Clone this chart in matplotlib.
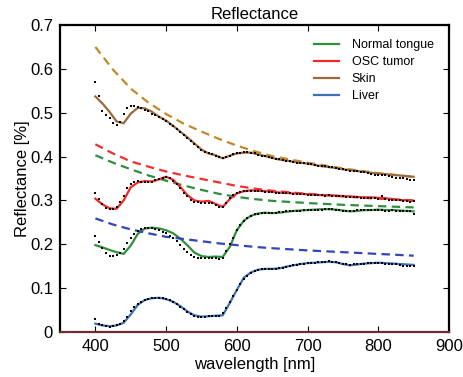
import numpy as np
import matplotlib
matplotlib.use('Agg')
import matplotlib.pyplot as plt
from matplotlib.ticker import FormatStrFormatter

plt.rcParams['font.family'] = ['Liberation Sans', 'DejaVu Sans']

# measured spectra (black dots), 5 nm steps
wl_meas = list(range(400, 851, 5))
skin_meas = [0.570, 0.537, 0.505, 0.495, 0.487, 0.477, 0.472, 0.478, 0.498, 0.510,
             0.515, 0.516, 0.513, 0.510, 0.507, 0.503, 0.498, 0.494, 0.490, 0.485,
             0.481, 0.475, 0.469, 0.463, 0.457, 0.450, 0.443, 0.436, 0.428, 0.421,
             0.415, 0.410, 0.407, 0.405, 0.402, 0.399, 0.396, 0.398, 0.402, 0.405,
             0.407, 0.409, 0.410, 0.411, 0.409, 0.407, 0.404, 0.402, 0.401, 0.399,
             0.397, 0.395, 0.394, 0.393, 0.391, 0.389, 0.388, 0.386, 0.386, 0.385,
             0.384, 0.382, 0.380, 0.379, 0.378, 0.378, 0.377, 0.376, 0.374, 0.372,
             0.371, 0.369, 0.368, 0.367, 0.366, 0.365, 0.364, 0.362, 0.360, 0.359,
             0.358, 0.357, 0.357, 0.355, 0.353, 0.350, 0.352, 0.351, 0.348, 0.347,
             0.346]
osc_meas = [0.316, 0.303, 0.292, 0.282, 0.280, 0.281, 0.286, 0.296, 0.311, 0.328,
            0.337, 0.343, 0.344, 0.343, 0.342, 0.341, 0.343, 0.346, 0.349, 0.351,
            0.353, 0.351, 0.344, 0.337, 0.328, 0.318, 0.309, 0.301, 0.297, 0.296,
            0.295, 0.295, 0.295, 0.294, 0.290, 0.285, 0.284, 0.293, 0.305, 0.313,
            0.317, 0.319, 0.321, 0.322, 0.322, 0.322, 0.321, 0.321, 0.320, 0.320,
            0.319, 0.318, 0.317, 0.317, 0.316, 0.316, 0.315, 0.315, 0.314, 0.314,
            0.313, 0.313, 0.313, 0.312, 0.312, 0.311, 0.312, 0.311, 0.310, 0.309,
            0.309, 0.308, 0.308, 0.307, 0.307, 0.306, 0.306, 0.305, 0.306, 0.305,
            0.304, 0.310, 0.303, 0.302, 0.301, 0.302, 0.300, 0.299, 0.298, 0.297,
            0.298]
tongue_meas = [0.218, 0.205, 0.192, 0.179, 0.174, 0.174, 0.175, 0.179, 0.190, 0.203,
               0.215, 0.224, 0.231, 0.235, 0.237, 0.237, 0.236, 0.234, 0.232, 0.229,
               0.225, 0.220, 0.215, 0.207, 0.198, 0.190, 0.182, 0.175, 0.170, 0.168,
               0.168, 0.168, 0.168, 0.168, 0.168, 0.166, 0.168, 0.184, 0.200, 0.215,
               0.232, 0.245, 0.254, 0.261, 0.265, 0.268, 0.270, 0.271, 0.272, 0.272,
               0.271, 0.272, 0.273, 0.274, 0.275, 0.276, 0.276, 0.277, 0.277, 0.278,
               0.278, 0.278, 0.279, 0.279, 0.279, 0.280, 0.280, 0.280, 0.279, 0.278,
               0.277, 0.277, 0.276, 0.277, 0.278, 0.278, 0.278, 0.278, 0.279, 0.278,
               0.279, 0.278, 0.277, 0.277, 0.278, 0.276, 0.277, 0.275, 0.276, 0.275,
               0.270]
liver_meas = [0.029, 0.019, 0.016, 0.013, 0.012, 0.013, 0.015, 0.018, 0.024, 0.035,
              0.047, 0.056, 0.063, 0.068, 0.072, 0.075, 0.077, 0.078, 0.078, 0.077,
              0.075, 0.073, 0.069, 0.064, 0.058, 0.052, 0.045, 0.040, 0.037, 0.035,
              0.035, 0.035, 0.036, 0.037, 0.036, 0.036, 0.043, 0.055, 0.068, 0.081,
              0.095, 0.110, 0.121, 0.128, 0.134, 0.138, 0.141, 0.143, 0.144, 0.144,
              0.143, 0.144, 0.145, 0.147, 0.149, 0.151, 0.152, 0.153, 0.155, 0.156,
              0.157, 0.158, 0.158, 0.159, 0.159, 0.160, 0.161, 0.160, 0.159, 0.157,
              0.155, 0.154, 0.153, 0.154, 0.155, 0.156, 0.156, 0.157, 0.157, 0.157,
              0.158, 0.157, 0.156, 0.155, 0.155, 0.154, 0.152, 0.151, 0.150, 0.151,
              0.151]

# model fits (solid), 10 nm steps
wl_fit = list(range(400, 851, 10))
skin_fit = [0.537, 0.521, 0.502, 0.480, 0.476, 0.498, 0.511, 0.510, 0.502, 0.491,
            0.482, 0.470, 0.457, 0.444, 0.430, 0.416, 0.407, 0.403, 0.396, 0.402,
            0.407, 0.409, 0.409, 0.405, 0.401, 0.397, 0.393, 0.391, 0.388, 0.386,
            0.384, 0.381, 0.378, 0.376, 0.374, 0.371, 0.369, 0.367, 0.365, 0.363,
            0.361, 0.360, 0.358, 0.357, 0.355, 0.354]
osc_fit = [0.304, 0.291, 0.282, 0.281, 0.300, 0.330, 0.341, 0.344, 0.343, 0.348,
           0.354, 0.347, 0.331, 0.312, 0.300, 0.297, 0.299, 0.292, 0.285, 0.303,
           0.316, 0.321, 0.323, 0.322, 0.321, 0.320, 0.318, 0.317, 0.316, 0.315,
           0.314, 0.313, 0.312, 0.312, 0.311, 0.310, 0.309, 0.308, 0.307, 0.307,
           0.306, 0.305, 0.303, 0.301, 0.300, 0.299]
tongue_fit = [0.198, 0.193, 0.187, 0.182, 0.178, 0.197, 0.224, 0.236, 0.238, 0.236,
              0.232, 0.225, 0.213, 0.198, 0.181, 0.173, 0.171, 0.172, 0.171, 0.194,
              0.232, 0.254, 0.265, 0.270, 0.272, 0.271, 0.272, 0.274, 0.276, 0.277,
              0.278, 0.279, 0.280, 0.280, 0.279, 0.277, 0.275, 0.276, 0.278, 0.278,
              0.279, 0.278, 0.278, 0.277, 0.276, 0.275]
liver_fit = [0.019, 0.015, 0.013, 0.015, 0.021, 0.040, 0.062, 0.073, 0.077, 0.078,
             0.075, 0.069, 0.059, 0.047, 0.038, 0.035, 0.036, 0.037, 0.038, 0.066,
             0.096, 0.124, 0.136, 0.142, 0.144, 0.144, 0.145, 0.149, 0.152, 0.155,
             0.157, 0.158, 0.159, 0.160, 0.159, 0.155, 0.152, 0.154, 0.156, 0.157,
             0.158, 0.157, 0.156, 0.155, 0.154, 0.153]

# scattering baselines (dashed)
wl_base = [400, 425, 450, 475, 500, 525, 550, 575, 600, 625, 650, 700, 750, 800, 850]
skin_base = [0.650, 0.598, 0.555, 0.523, 0.497, 0.475, 0.457, 0.440, 0.425, 0.412,
             0.401, 0.386, 0.373, 0.362, 0.354]
osc_base = [0.428, 0.407, 0.389, 0.377, 0.366, 0.357, 0.349, 0.341, 0.333, 0.327,
            0.322, 0.315, 0.309, 0.304, 0.300]
tongue_base = [0.403, 0.386, 0.371, 0.357, 0.345, 0.334, 0.324, 0.315, 0.308, 0.303,
               0.299, 0.294, 0.290, 0.287, 0.284]
liver_base = [0.259, 0.245, 0.234, 0.225, 0.217, 0.212, 0.207, 0.202, 0.198, 0.194,
              0.191, 0.186, 0.182, 0.178, 0.174]

labels = ['Normal tongue', 'OSC tumor', 'Skin', 'Liver']
fit_colors = ['#2f8f3c', '#f02828', '#9a6a3a', '#3f70b5']
base_colors = ['#2f8f3c', '#f03030', '#c08a28', '#3345b8']


def main():
    fig = plt.figure(figsize=(4.63, 3.77), dpi=100)
    ax = fig.add_axes([0.1296, 0.1194, 0.8402, 0.8143])

    fits = [tongue_fit, osc_fit, skin_fit, liver_fit]
    bases = [tongue_base, osc_base, skin_base, liver_base]
    meas = [tongue_meas, osc_meas, skin_meas, liver_meas]

    for fit, base, c, bc, lab in zip(fits, bases, fit_colors, base_colors, labels):
        ax.plot(wl_base, base, color=bc, lw=1.6, dashes=(3.8, 2.4))
        ax.plot(wl_fit, fit, color=c, lw=1.6, label=lab)
    for m in meas:
        ax.plot(wl_meas, m, ls='none', marker='s', ms=2.0, color='black',
                markeredgewidth=0)

    ax.set_xlim(350, 900)
    ax.set_ylim(0, 0.7)
    ax.set_xticks(range(400, 901, 100))
    ax.set_yticks(np.arange(0, 0.71, 0.1))
    ax.yaxis.set_major_formatter(FormatStrFormatter('%g'))
    ax.tick_params(direction='in', top=True, right=True, labelsize=12,
                   length=4, width=0.8, pad=5)
    for s in ax.spines.values():
        s.set_linewidth(1.6)
    ax.spines['bottom'].set_color('#6e2e2e')

    ax.set_xlabel('wavelength [nm]', fontsize=12, labelpad=2)
    ax.set_ylabel('Reflectance [%]', fontsize=12, labelpad=0)
    ax.set_title('Reflectance', fontsize=12, pad=4)

    ax.legend(loc='upper right', bbox_to_anchor=(0.99, 0.99), frameon=False,
              fontsize=9, handlelength=2.0, handletextpad=1.0, labelspacing=0.4)

    fig.savefig('out.png', dpi=100)


if __name__ == '__main__':
    main()
